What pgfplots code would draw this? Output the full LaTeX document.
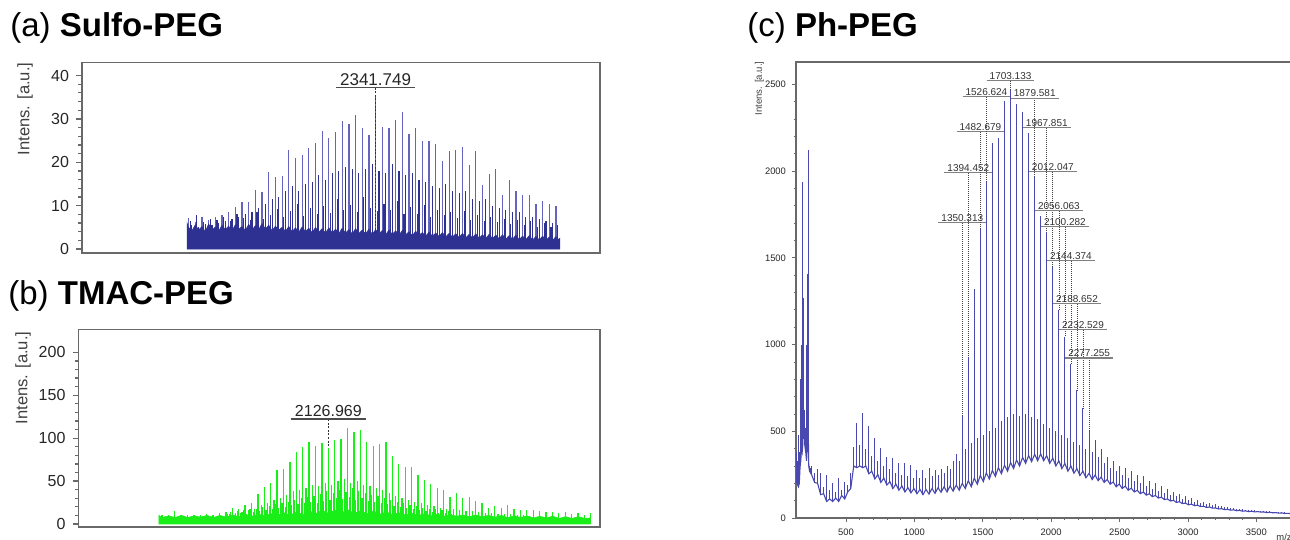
\documentclass[border=0pt]{standalone}
\usepackage{pgfplots}
\pgfplotsset{compat=1.18}
\usepackage{pgfplotstable}
\usepackage{fontspec}
\setmainfont{Liberation Sans}
\definecolor{navyA}{RGB}{46,49,146}
\definecolor{spikeA}{RGB}{100,100,190}
\definecolor{greenB}{RGB}{25,238,25}
\definecolor{specC}{RGB}{72,72,175}
\definecolor{boxgray}{RGB}{105,105,105}

\pgfplotstableread{
x b t
136 330 380
141 200 370
147 190 330
153 180 480
159 200 380
165 300 620
170 330 800
175 400 1000
180 380 600
184 420 1940
188 500 1270
193 560 640
199 420 620
206 380 520
212 330 1000
217 400 1410
223 600 2120
228 300 920
234 270 300
241 260 290
249 250 300
271 205 262
293 200 280
315 135 262
337 140 180
359 95 250
381 110 160
403 95 200
425 115 150
447 95 230
469 130 160
491 110 210
513 150 190
535 170 260
557 300 410
579 290 550
601 300 420
623 290 608
645 300 400
667 255 530
689 270 360
711 225 460
733 250 330
755 205 405
777 230 300
799 190 352
821 210 280
843 170 346
865 195 260
887 160 317
909 185 250
931 150 317
953 175 240
975 145 306
997 170 230
1019 140 277
1041 165 230
1063 135 277
1085 165 230
1107 138 288
1129 170 240
1151 142 277
1173 175 250
1195 148 280
1217 180 260
1239 150 300
1261 185 280
1283 155 330
1306 190 370
1328 160 330
1350 200 594
1372 170 400
1394 215 930
1416 180 430
1438 230 1318
1460 195 460
1482 245 1672
1504 210 480
1526 260 1938
1548 225 500
1570 275 2162
1592 240 520
1614 290 2194
1636 255 560
1659 305 2407
1681 270 580
1703 320 2470
1725 285 600
1747 335 2389
1769 300 590
1791 350 2343
1813 315 600
1835 360 2220
1857 325 580
1879 368 1968
1901 330 570
1923 370 1741
1945 330 540
1967 360 1651
1989 315 520
2012 345 1453
2034 300 500
2056 330 1200
2078 285 480
2100 315 1046
2122 270 460
2144 300 888
2166 258 440
2188 285 738
2210 245 420
2232 270 635
2254 232 400
2277 258 507
2299 222 380
2321 248 450
2343 215 350
2365 236 400
2387 205 320
2409 222 350
2431 195 290
2453 208 330
2475 180 270
2497 196 300
2519 170 250
2541 184 290
2563 160 230
2585 172 270
2607 150 215
2629 160 250
2651 140 200
2673 150 240
2695 132 185
2717 140 215
2739 123 170
2761 130 200
2783 115 158
2805 120 185
2827 106 145
2849 110 165
2871 98 135
2893 102 150
2915 90 125
2937 94 140
2959 83 112
2981 86 125
3003 76 102
3025 80 115
3047 71 95
3069 74 105
3091 66 88
3113 68 95
3135 61 80
3157 63 85
3179 57 75
3201 58 78
3223 52 70
3245 54 70
3267 48 62
3289 50 65
3311 45 58
3333 47 58
3355 42 54
3377 44 52
3399 39 50
3421 41 48
3443 37 46
3465 39 45
3487 35 44
3509 37 42
3531 34 41
3553 35 40
3575 31 39
3597 33 38
3619 30 37
3641 31 35
3663 28 34
3685 29 33
3707 26 32
3729 27 31
3751 25 30
}\Ctab

\pgfplotsset{specaxis/.style={
  scale only axis, anchor=south west,
  axis line style={boxgray, line width=0.75pt},
  tick pos=left, tick align=outside, xtick=\empty,
  major tick length=3pt, minor tick length=1.8pt,
  every tick/.style={boxgray, line width=0.6pt},
  yticklabel style={font=\fontsize{8}{8}\selectfont, text=black!85},
  /pgf/number format/assume math mode=true,
  /pgf/number format/1000 sep={},
  scaled ticks=false,
}}

\newcommand{\clab}[3]{%
  \draw[dash pattern=on 0.45pt off 0.55pt, black!75, line width=0.35pt] (axis cs:#1,#2) -- (axis cs:#1,#3);
  \node[anchor=south, inner xsep=1.3pt, inner ysep=0.5pt, font=\fontsize{5}{5}\selectfont, text=black!80] (L) at (axis cs:#1,#2) {#1};
  \draw[black!50, line width=0.55pt] (L.south west) -- (L.south east);
}

\begin{document}
\begin{tikzpicture}
\path[use as bounding box] (0,0) rectangle (645pt,270pt);

% titles
\node[anchor=base west, inner sep=0pt, font=\fontsize{16.5}{16.5}\selectfont] at (5pt,251.5pt) {(a) \textbf{Sulfo-PEG}};
\node[anchor=base west, inner sep=0pt, font=\fontsize{16.5}{16.5}\selectfont] at (4pt,117.5pt) {(b) \textbf{TMAC-PEG}};
\node[anchor=base west, inner sep=0pt, font=\fontsize{16.5}{16.5}\selectfont] at (373.5pt,251.5pt) {(c) \textbf{Ph-PEG}};

% y labels
\node[rotate=90, font=\fontsize{8.3}{8.3}\selectfont, text=black!75] at (12.5pt,215.5pt) {Intens. [a.u.]};
\node[rotate=90, font=\fontsize{8.3}{8.3}\selectfont, text=black!75] at (11.5pt,81pt) {Intens. [a.u.]};
\node[rotate=90, font=\fontsize{4.8}{4.8}\selectfont, text=black!75] at (379.75pt,225.75pt) {Intens. [a.u.]};
\node[font=\fontsize{4.7}{4.7}\selectfont, text=black!80] at (642pt,1.5pt) {m/z};

% ---------------- (a) ----------------
\begin{axis}[specaxis, at={(41pt,143.5pt)}, width=259pt, height=95.25pt,
  xmin=408, xmax=3820, ymin=-0.9, ymax=43,
  ytick={0,10,20,30,40}, minor y tick num=4]
\addplot[ycomb, spikeA, line width=0.6pt, mark=none] coordinates {
(1110,7.1)(1154,6.3)(1198,7.5)(1242,6.7)(1286,7.5)(1330,7.8)(1374,8.5)(1418,9.8)(1462,10.9)(1506,10.9)
(1550,13.6)(1594,13.2)(1638,17.7)(1682,16.7)(1726,16.9)(1770,22.9)(1814,21.1)(1858,21.6)(1902,23.4)(1946,24.4)
(1990,27.1)(2034,25.5)(2078,26.9)(2122,29.6)(2166,28.9)(2210,30.8)(2254,28.0)(2298,26.3)(2342,35.2)(2386,28.2)
(2430,28.0)(2474,29.8)(2518,31.6)(2562,26.5)(2606,28.0)(2650,24.8)(2694,24.9)(2738,24.2)(2782,20.2)(2826,22.5)
(2870,22.9)(2914,23.6)(2958,19.4)(3002,22.5)(3046,14.8)(3090,17.2)(3134,18.5)(3178,12.5)(3222,16.0)(3266,13.5)
(3310,12.5)(3354,12.5)(3398,10.5)(3442,11.0)(3486,10.5)(3530,10.0)};
\addplot[ycomb, navyA, line width=0.55pt, mark=none] coordinates {
(1132,5.5)(1176,5.2)(1220,5.8)(1264,5.6)(1308,6.0)(1352,6.5)(1396,7.0)(1440,7.5)(1484,8.0)(1528,8.5)
(1572,9.5)(1616,10.5)(1660,11.5)(1704,12.0)(1748,13.5)(1792,14.5)(1836,13.5)(1880,15.0)(1924,15.5)(1968,17.0)
(2012,16.0)(2056,17.5)(2100,18.0)(2144,19.0)(2188,18.5)(2232,17.5)(2276,18.5)(2320,19.5)(2364,18.0)(2408,17.5)
(2452,19.5)(2496,18.0)(2540,17.0)(2584,17.5)(2628,16.0)(2672,15.5)(2716,14.5)(2760,14.0)(2804,15.0)(2848,13.5)
(2892,13.0)(2936,13.5)(2980,11.5)(3024,11.0)(3068,11.5)(3112,10.0)(3156,9.5)(3200,9.0)(3244,8.5)(3288,8.5)
(3332,7.5)(3376,7.5)(3420,7.0)(3464,6.5)(3508,6.0)};
\addplot[ycomb, navyA, line width=0.55pt, mark=none] coordinates {
(1121,6.5)(1165,7.8)(1209,6.2)(1253,7.0)(1297,6.8)(1341,7.5)(1385,6.4)(1429,8.0)(1473,7.2)(1517,6.6)
(1561,8.5)(1605,7.0)(1649,7.8)(1693,9.2)(1737,7.4)(1781,8.8)(1825,10.5)(1869,7.6)(1913,9.5)(1957,8.2)
(2001,10.0)(2045,8.4)(2089,11.5)(2133,9.0)(2177,10.2)(2221,8.5)(2265,12.0)(2309,9.5)(2353,8.8)(2397,10.5)
(2441,9.0)(2485,11.0)(2529,8.2)(2573,9.8)(2617,8.0)(2661,10.2)(2705,7.5)(2749,9.0)(2793,7.8)(2837,8.6)
(2881,7.2)(2925,8.8)(2969,6.8)(3013,7.9)(3057,6.5)(3101,7.4)(3145,6.2)(3189,7.0)(3233,5.8)(3277,6.6)
(3321,5.5)(3365,6.4)(3409,5.2)(3453,6.0)(3497,5.0)(3541,5.6)};
\addplot[fill=navyA, draw=navyA, line width=0.3pt, mark=none] coordinates {
(1100,6.0)(1110,5.0)(1132,4.2)(1154,5.6)(1176,4.4)(1198,5.2)(1220,4.0)(1242,5.8)(1264,4.3)(1286,5.1)
(1308,4.1)(1330,5.5)(1352,4.5)(1374,5.3)(1396,4.2)(1418,5.6)(1440,4.6)(1462,5.2)(1484,4.3)(1506,5.7)
(1528,4.4)(1550,5.4)(1572,4.5)(1594,5.9)(1616,4.6)(1638,5.5)(1660,4.2)(1682,5.3)(1704,4.4)(1726,5.0)
(1748,4.1)(1770,5.2)(1792,4.0)(1814,4.9)(1836,3.9)(1858,5.1)(1880,4.0)(1902,4.8)(1924,3.8)(1946,5.0)
(1968,3.9)(1990,4.7)(2012,3.7)(2034,4.9)(2056,3.8)(2078,4.6)(2100,3.6)(2122,4.8)(2144,3.7)(2166,4.5)
(2188,3.5)(2210,4.7)(2232,3.6)(2254,4.4)(2276,3.5)(2298,4.6)(2320,3.4)(2342,4.5)(2364,3.5)(2386,4.3)
(2408,3.3)(2430,4.4)(2452,3.4)(2474,4.2)(2496,3.2)(2518,4.3)(2540,3.3)(2562,4.0)(2584,3.1)(2606,4.1)
(2628,3.2)(2650,3.8)(2672,3.0)(2694,3.9)(2716,3.0)(2738,3.7)(2760,2.9)(2782,3.8)(2804,2.8)(2826,3.6)
(2848,2.8)(2870,3.5)(2892,2.7)(2914,3.6)(2936,2.6)(2958,3.4)(2980,2.6)(3002,3.5)(3024,2.5)(3046,3.3)
(3068,2.5)(3090,3.4)(3112,2.4)(3134,3.2)(3156,2.4)(3178,3.3)(3200,2.3)(3222,3.1)(3244,2.3)(3266,3.2)
(3288,2.2)(3310,3.0)(3332,2.2)(3354,3.1)(3376,2.1)(3398,2.9)(3420,2.1)(3442,3.0)(3464,2.0)(3486,2.8)
(3508,2.0)(3530,2.9)(3545,2.2)(3556,2.5)} \closedcycle;
\draw[dash pattern=on 1pt off 0.8pt, black!80, line width=0.6pt] (axis cs:2341.749,37.2) -- (axis cs:2341.749,4);
\node[anchor=south, inner xsep=2pt, inner ysep=0.8pt, font=\fontsize{8.5}{8.5}\selectfont, text=black!85] (LA) at (axis cs:2341.749,37.2) {2341.749};
\draw[black!70, line width=0.8pt] (LA.south west) -- (LA.south east);
\end{axis}

% ---------------- (b) ----------------
\begin{axis}[specaxis, at={(39.25pt,6.5pt)}, width=260.75pt, height=98.75pt,
  xmin=410, xmax=3994, ymin=-3.5, ymax=226.6,
  ytick={0,50,100,150,200}, minor y tick num=4]
\addplot[ycomb, greenB, line width=0.65pt, mark=none] coordinates {
(983,11)(1027,10)(1071,15)(1115,10)(1159,11)(1203,10)(1247,11)(1291,12)(1335,11)(1379,13)
(1423,14)(1467,18.2)(1511,18)(1555,22)(1599,24)(1643,34.6)(1687,43.5)(1731,47.3)(1775,63)(1819,63.7)
(1863,72.6)(1907,84.3)(1951,90)(1995,96)(2039,91.3)(2083,94.8)(2127,89)(2171,97.9)(2215,98.6)(2259,111.4)
(2303,107.5)(2347,109.5)(2391,96)(2435,90.8)(2479,93)(2523,96)(2567,78.7)(2611,70)(2655,66.3)(2699,66.3)
(2743,56.5)(2787,50.7)(2831,46.4)(2875,42.5)(2919,39.8)(2963,31.3)(3007,36)(3051,30)(3095,32)(3139,26.4)
(3183,24.5)(3227,18.6)(3271,20.5)(3315,18.6)(3359,22.5)(3403,17.4)(3447,16.7)(3491,16.7)(3535,16)(3579,14.8)
(3623,13.6)(3667,13.6)(3711,12.4)(3755,13.6)(3799,11.6)(3843,12.4)(3887,10.5)(3931,12.4)};
\addplot[ycomb, greenB, line width=0.6pt, mark=none] coordinates {
(1445,12)(1489,13)(1533,14)(1577,16)(1621,18)(1665,22)(1709,25)(1753,28)(1797,30)(1841,34)
(1885,38)(1929,40)(1973,42)(2017,45)(2061,44)(2105,48)(2149,46)(2193,50)(2237,52)(2281,48)
(2325,50)(2369,45)(2413,44)(2457,42)(2501,40)(2545,36)(2589,33)(2633,30)(2677,28)(2721,26)
(2765,24)(2809,22)(2853,21)(2897,19)(2941,18)(2985,17)(3029,16)(3073,15)(3117,15)(3161,14)
(3205,13)(3249,13)(3293,12)(3337,12)(3381,12)(3425,11)(3469,11)};
\addplot[ycomb, greenB, line width=0.6pt, mark=none] coordinates {
(1434,12)(1456,14)(1478,11)(1500,15)(1522,13)(1544,16)(1566,12)(1588,17)(1610,14)(1632,18)
(1654,15)(1676,20)(1698,16)(1720,21)(1742,18)(1764,23)(1786,19)(1808,25)(1830,20)(1852,26)
(1874,22)(1896,28)(1918,23)(1940,30)(1962,24)(1984,31)(2006,26)(2028,33)(2050,25)(2072,35)
(2094,27)(2116,38)(2138,28)(2160,36)(2182,30)(2204,40)(2226,29)(2248,37)(2270,31)(2292,42)
(2314,28)(2336,38)(2358,30)(2380,36)(2402,27)(2424,34)(2446,26)(2468,33)(2490,24)(2512,30)
(2534,23)(2556,28)(2578,21)(2600,26)(2622,20)(2644,24)(2666,19)(2688,22)(2710,17)(2732,21)
(2754,16)(2776,19)(2798,15)(2820,18)(2842,14)(2864,17)(2886,13)(2908,16)(2930,13)(2952,15)
(2974,12)};
\addplot[fill=greenB, draw=greenB, line width=0.3pt, mark=none] coordinates {
(963,10)(985,7.5)(1029,9.5)(1073,7.5)(1117,10)(1161,7.5)(1205,9.5)(1249,8)(1293,10)(1337,7.5)
(1381,10)(1425,8)(1469,10.5)(1513,8.5)(1557,11)(1601,9)(1645,11.5)(1689,9.5)(1733,12)(1777,10)
(1821,13)(1865,10.5)(1909,14)(1953,11)(1997,15)(2041,12)(2085,16)(2129,12.5)(2173,16)(2217,13)
(2261,16.5)(2305,12.5)(2349,15.5)(2393,12)(2437,15)(2481,11.5)(2525,14)(2569,11)(2613,13)(2657,10.5)
(2701,12.5)(2745,10)(2789,12)(2833,9.5)(2877,11.5)(2921,9)(2965,11)(3009,9)(3053,10.5)(3097,8.5)
(3141,10.5)(3185,8.5)(3229,10)(3273,8)(3317,10)(3361,7.5)(3405,9.5)(3449,7.5)(3493,9.5)(3537,7)
(3581,9)(3625,7)(3669,9)(3713,6.5)(3757,8.5)(3801,6.5)(3845,8.5)(3889,6.5)(3925,7)} \closedcycle;
\draw[dash pattern=on 1pt off 0.8pt, black!80, line width=0.6pt] (axis cs:2126.969,122.3) -- (axis cs:2126.969,89);
\node[anchor=south, inner xsep=2pt, inner ysep=0.8pt, font=\fontsize{8}{8}\selectfont, text=black!85] (LB) at (axis cs:2126.969,122.3) {2126.969};
\draw[black!70, line width=0.8pt] (LB.south west) -- (LB.south east);
\end{axis}

% ---------------- (c) ----------------
\begin{axis}[specaxis, at={(398pt,11pt)}, width=248pt, height=228pt,
  axis line style={boxgray, line width=0.6pt},
  xmin=135, xmax=3760, ymin=0, ymax=2630,
  xtick={500,1000,1500,2000,2500,3000,3500}, minor x tick num=4,
  ytick={0,500,1000,1500,2000,2500}, minor y tick num=4,
  major tick length=2pt, minor tick length=1.2pt,
  every tick/.style={boxgray, line width=0.45pt},
  yticklabel style={font=\fontsize{4.7}{4.7}\selectfont, text=black!85, xshift=0.5pt},
  xticklabel style={font=\fontsize{4.7}{4.7}\selectfont, text=black!85}]
\addplot[specC, line width=0.55pt, mark=none,
  error bars/.cd, y dir=plus, y explicit, error mark=none,
  error bar style={specC, line width=0.5pt}]
  table[x=x, y=b, y error plus expr=\thisrow{t}-\thisrow{b}] {\Ctab};
\clab{1350.313}{1702}{594}
\clab{1394.452}{1991}{930}
\clab{1482.679}{2227}{1672}
\clab{1526.624}{2429}{1938}
\clab{1703.133}{2522}{2470}
\clab{1879.581}{2421}{1968}
\clab{1967.851}{2250}{1651}
\clab{2012.047}{1997}{1453}
\clab{2056.063}{1771}{1200}
\clab{2100.282}{1679}{1046}
\clab{2144.374}{1483}{888}
\clab{2188.652}{1235}{738}
\clab{2232.529}{1085}{635}
\clab{2277.255}{923}{507}
\end{axis}
\end{tikzpicture}
\end{document}
